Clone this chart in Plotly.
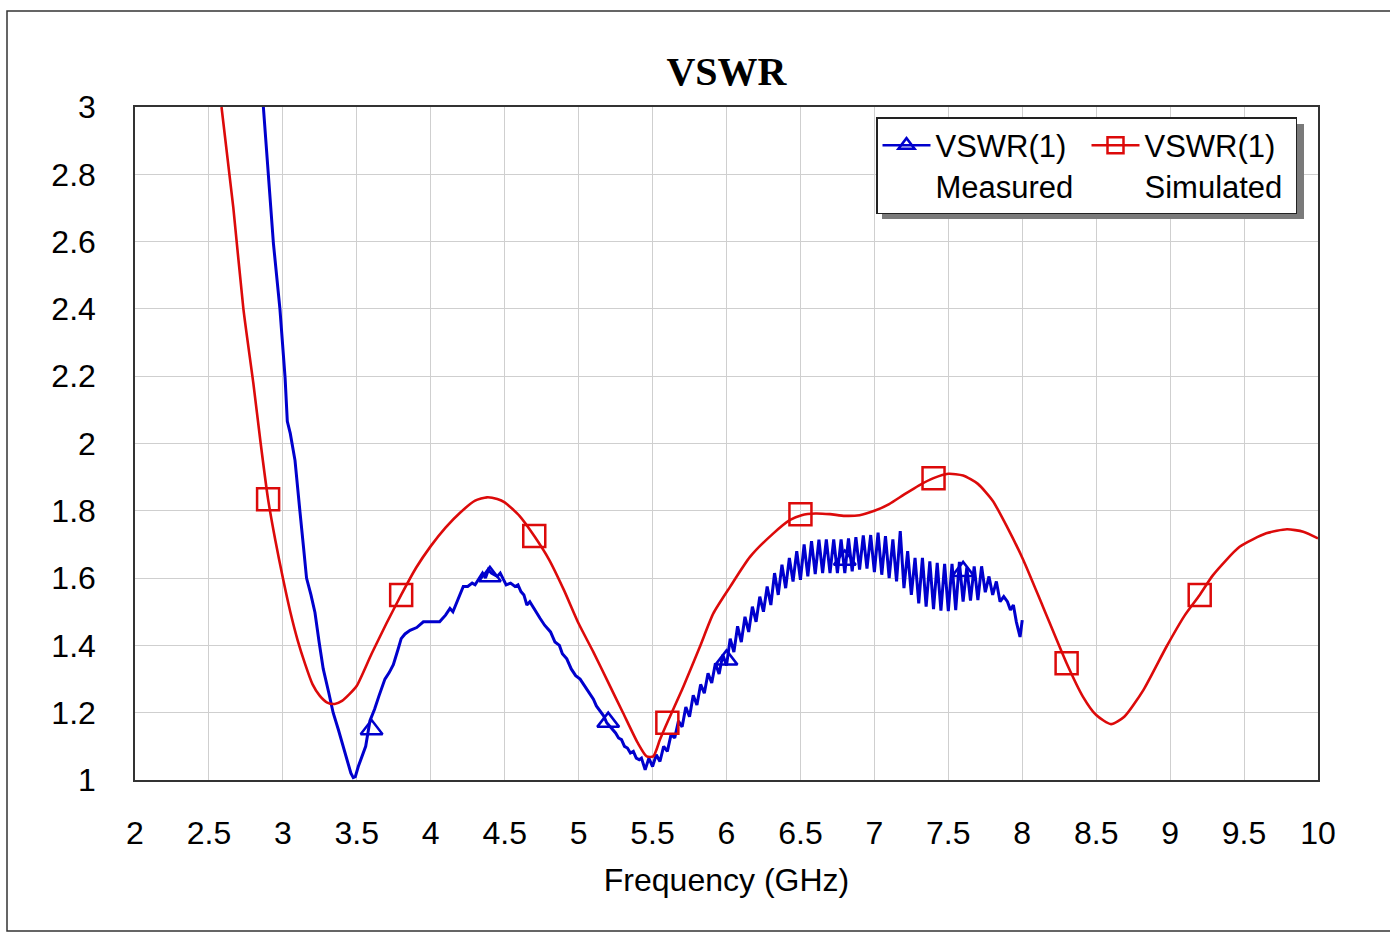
import plotly.graph_objects as go

# ---------------- data ----------------
sim_x = [2.585, 2.665, 2.733, 2.80, 2.85, 2.90, 2.95, 3.00, 3.05, 3.10, 3.15, 3.20, 3.25, 3.30, 3.35,
         3.40, 3.45, 3.50, 3.60, 3.70, 3.80, 3.90, 4.00, 4.10, 4.20, 4.30, 4.38, 4.45, 4.50, 4.60,
         4.70, 4.80, 4.90, 5.00, 5.10, 5.20, 5.30, 5.40, 5.46, 5.505, 5.55, 5.607, 5.708, 5.82, 5.911,
         6.024, 6.159, 6.317, 6.43, 6.508, 6.60, 6.70, 6.80, 6.90, 7.00, 7.10, 7.20, 7.30, 7.40, 7.50,
         7.60, 7.70, 7.80, 7.90, 8.007, 8.14, 8.30, 8.41, 8.50, 8.60, 8.69, 8.82, 8.975, 9.10, 9.20, 9.29,
         9.47, 9.65, 9.79, 9.90, 10.0]
sim_y = [3.00, 2.70, 2.40, 2.18, 2.00, 1.834, 1.71, 1.60, 1.50, 1.415, 1.345, 1.285, 1.25, 1.23, 1.226,
         1.235, 1.255, 1.28, 1.375, 1.465, 1.55, 1.63, 1.695, 1.75, 1.795, 1.83, 1.84, 1.835, 1.825, 1.785,
         1.725, 1.655, 1.565, 1.465, 1.38, 1.29, 1.20, 1.11, 1.07, 1.07, 1.12, 1.178, 1.277, 1.396, 1.495,
         1.574, 1.663, 1.733, 1.773, 1.787, 1.792, 1.79, 1.785, 1.787, 1.80, 1.82, 1.848, 1.875, 1.897, 1.91,
         1.905, 1.88, 1.83, 1.75, 1.654, 1.515, 1.347, 1.248, 1.193, 1.166, 1.188, 1.268, 1.396, 1.49, 1.55, 1.609,
         1.693, 1.733, 1.745, 1.738, 1.718]

meas_x = [2.868, 2.90, 2.936, 2.98, 3.015, 3.03, 3.05, 3.082, 3.10, 3.116, 3.14, 3.16, 3.19, 3.217, 3.245,
          3.273, 3.31, 3.34, 3.375, 3.408, 3.44, 3.46, 3.476, 3.49, 3.51, 3.544, 3.56, 3.589, 3.62, 3.65,
          3.69, 3.72, 3.747, 3.78, 3.80, 3.826, 3.86, 3.905, 3.95, 4.00, 4.06, 4.10, 4.13, 4.15, 4.17,
          4.20, 4.22, 4.25, 4.28, 4.30, 4.33, 4.35, 4.37, 4.39, 4.41, 4.43, 4.45, 4.47, 4.49, 4.51,
          4.54, 4.57, 4.59, 4.61, 4.63, 4.65, 4.67, 4.69, 4.71, 4.74, 4.77, 4.79, 4.81, 4.84, 4.87,
          4.89, 4.92, 4.95, 4.98, 5.01, 5.04, 5.06, 5.08, 5.10, 5.12, 5.15, 5.17, 5.19, 5.21, 5.23,
          5.25, 5.27, 5.29, 5.31, 5.33, 5.35, 5.37, 5.39, 5.41,
          5.425, 5.45, 5.475, 5.50, 5.525, 5.55, 5.575, 5.60, 5.625, 5.65, 5.675, 5.70, 5.725, 5.75, 5.775,
          5.80, 5.825, 5.85, 5.875, 5.90, 5.925, 5.95, 5.975, 6.00, 6.025, 6.05, 6.075, 6.10, 6.125, 6.15,
          6.175, 6.20, 6.225, 6.25, 6.275, 6.30, 6.325, 6.35, 6.375, 6.40, 6.425, 6.45, 6.475, 6.50, 6.525,
          6.55, 6.575, 6.60, 6.625, 6.65, 6.675, 6.70, 6.725, 6.75, 6.775, 6.80, 6.825, 6.85, 6.875, 6.90,
          6.925, 6.95, 6.975, 7.00, 7.025, 7.05, 7.075, 7.10, 7.125, 7.15, 7.175, 7.20, 7.225, 7.25, 7.275,
          7.30, 7.325, 7.35, 7.375, 7.40, 7.425, 7.45, 7.475, 7.50, 7.525, 7.55, 7.575, 7.60, 7.625, 7.65,
          7.675, 7.70, 7.725, 7.75, 7.775, 7.80, 7.825, 7.85, 7.875, 7.90, 7.92, 7.94, 7.96, 7.985, 8.00]
meas_y = [3.00, 2.80, 2.595, 2.40, 2.195, 2.066, 2.03, 1.95, 1.86, 1.795, 1.69, 1.60, 1.55, 1.498, 1.41,
          1.33, 1.26, 1.20, 1.15, 1.098, 1.05, 1.02, 1.007, 1.01, 1.04, 1.085, 1.10, 1.176, 1.21, 1.25,
          1.30, 1.32, 1.343, 1.39, 1.42, 1.434, 1.445, 1.453, 1.47, 1.47, 1.47, 1.49, 1.51, 1.50, 1.52,
          1.555, 1.575, 1.575, 1.585, 1.58, 1.60, 1.615, 1.60, 1.625, 1.615, 1.61, 1.605, 1.615, 1.595, 1.58,
          1.585, 1.575, 1.58, 1.56, 1.55, 1.52, 1.53, 1.515, 1.50, 1.48, 1.46, 1.45, 1.44, 1.41, 1.40,
          1.375, 1.36, 1.33, 1.31, 1.30, 1.28, 1.265, 1.25, 1.24, 1.22, 1.20, 1.19, 1.17, 1.16, 1.15,
          1.14, 1.125, 1.12, 1.10, 1.095, 1.08, 1.085, 1.065, 1.06,
          1.065, 1.030, 1.065, 1.040, 1.075, 1.055, 1.100, 1.085, 1.135, 1.125, 1.175, 1.158, 1.217, 1.188, 1.252,
          1.223, 1.284, 1.258, 1.317, 1.288, 1.347, 1.315, 1.372, 1.340, 1.420, 1.380, 1.457, 1.410, 1.485, 1.440,
          1.515, 1.470, 1.545, 1.500, 1.575, 1.520, 1.615, 1.550, 1.640, 1.570, 1.660, 1.590, 1.680, 1.595, 1.700,
          1.605, 1.710, 1.612, 1.714, 1.615, 1.715, 1.615, 1.715, 1.615, 1.715, 1.615, 1.718, 1.620, 1.722, 1.625,
          1.727, 1.628, 1.728, 1.618, 1.735, 1.610, 1.725, 1.600, 1.715, 1.590, 1.740, 1.570, 1.680, 1.550, 1.660,
          1.525, 1.660, 1.515, 1.650, 1.508, 1.645, 1.503, 1.642, 1.502, 1.642, 1.505, 1.648, 1.530, 1.632, 1.533,
          1.635, 1.535, 1.635, 1.558, 1.605, 1.550, 1.590, 1.530, 1.545, 1.530, 1.505, 1.520, 1.470, 1.425, 1.475]

meas_mk_x = [3.6, 4.4, 5.2, 6.0, 6.8, 7.6]
meas_mk_y = [1.15, 1.605, 1.172, 1.357, 1.654, 1.62]
sim_mk_x = [2.9, 3.8, 4.7, 5.6, 6.5, 7.4, 8.3, 9.2]
sim_mk_y = [1.834, 1.55, 1.725, 1.17, 1.79, 1.897, 1.347, 1.55]

x_ticks = [2, 2.5, 3, 3.5, 4, 4.5, 5, 5.5, 6, 6.5, 7, 7.5, 8, 8.5, 9, 9.5, 10]
y_ticks = [1, 1.2, 1.4, 1.6, 1.8, 2, 2.2, 2.4, 2.6, 2.8, 3]

BLUE = "rgb(0,0,205)"
RED = "rgb(220,10,10)"
SANS = "Liberation Sans, Arial, sans-serif"

fig = go.Figure()
fig.add_trace(go.Scatter(x=meas_x, y=meas_y, mode="lines", line=dict(color=BLUE, width=3),
                         showlegend=False, hoverinfo="skip"))
fig.add_trace(go.Scatter(x=sim_x, y=sim_y, mode="lines", line=dict(color=RED, width=2.6, shape="spline", smoothing=0.6),
                         showlegend=False, hoverinfo="skip"))
fig.add_trace(go.Scatter(x=meas_mk_x, y=meas_mk_y, mode="markers",
                         marker=dict(symbol="triangle-up-open", size=19, color=BLUE, line=dict(width=2.5, color=BLUE)),
                         showlegend=False))
fig.add_trace(go.Scatter(x=sim_mk_x, y=sim_mk_y, mode="markers",
                         marker=dict(symbol="square-open", size=22, color=RED, line=dict(width=2.5, color=RED)),
                         showlegend=False))
# legend entries
fig.add_trace(go.Scatter(x=[None], y=[None], mode="lines+markers", name="VSWR(1)<br>Measured",
                         line=dict(color=BLUE, width=2.5),
                         marker=dict(symbol="triangle-up-open", size=14, color=BLUE, line=dict(width=2.5, color=BLUE))))
fig.add_trace(go.Scatter(x=[None], y=[None], mode="lines+markers", name="VSWR(1)<br>Simulated",
                         line=dict(color=RED, width=2.5),
                         marker=dict(symbol="square-open", size=16, color=RED, line=dict(width=2.5, color=RED))))

L, R, T, B = 135, 72, 107, 153
W, H = 1390, 933
pw, ph = W - L - R, H - T - B


def px2paper(px, py):
    return (px - L) / pw, (H - B - py) / ph


# outer frame
ox0, oy0 = px2paper(7, 931)
ox1, oy1 = px2paper(1400, 11)
fig.add_shape(type="rect", xref="paper", yref="paper", x0=ox0, y0=oy0, x1=ox1, y1=oy1,
              line=dict(color="#333333", width=1.5), layer="below")
# legend shadow
sx0, sy0 = px2paper(882, 219)
sx1, sy1 = px2paper(1304, 124)
fig.add_shape(type="rect", xref="paper", yref="paper", x0=sx0, y0=sy0, x1=sx1, y1=sy1,
              line=dict(width=0), fillcolor="#7a7a7a", layer="above")

lx, ly = px2paper(876, 117)
fig.update_layout(
    width=W, height=H,
    margin=dict(l=L, r=R, t=T, b=B, autoexpand=False),
    paper_bgcolor="white", plot_bgcolor="white",
    title=dict(text="<b>VSWR</b>", x=0.5, xref="paper", xanchor="center", y=1 - 71 / H, yanchor="middle",
               font=dict(family="Liberation Serif, Times New Roman, serif", size=40, color="black")),
    legend=dict(x=lx, y=ly, xanchor="left", yanchor="top", orientation="h", valign="top",
                bgcolor="white", bordercolor="#222222", borderwidth=1.5,
                font=dict(family=SANS, size=31, color="black"), itemwidth=48,
                entrywidth=146, entrywidthmode="pixels"),
    showlegend=True,
)
fig.update_xaxes(range=[2, 10], tickvals=x_ticks, ticktext=[f"{v:g}" for v in x_ticks],
                 showgrid=True, gridcolor="#cfcfcf", gridwidth=1,
                 showline=True, linecolor="#333333", linewidth=1.5, mirror=True,
                 ticks="outside", ticklen=24, tickcolor="rgba(0,0,0,0)",
                 tickfont=dict(family=SANS, size=32, color="black"),
                 title=dict(text="Frequency (GHz)", font=dict(family=SANS, size=32, color="black"), standoff=18),
                 zeroline=False)
fig.update_yaxes(range=[1, 3], tickvals=y_ticks, ticktext=[f"{v:g}" for v in y_ticks],
                 showgrid=True, gridcolor="#cfcfcf", gridwidth=1,
                 showline=True, linecolor="#333333", linewidth=1.5, mirror=True,
                 ticks="outside", ticklen=31, tickcolor="rgba(0,0,0,0)",
                 tickfont=dict(family=SANS, size=32, color="black"),
                 zeroline=False)

fig.write_html("out.html")
